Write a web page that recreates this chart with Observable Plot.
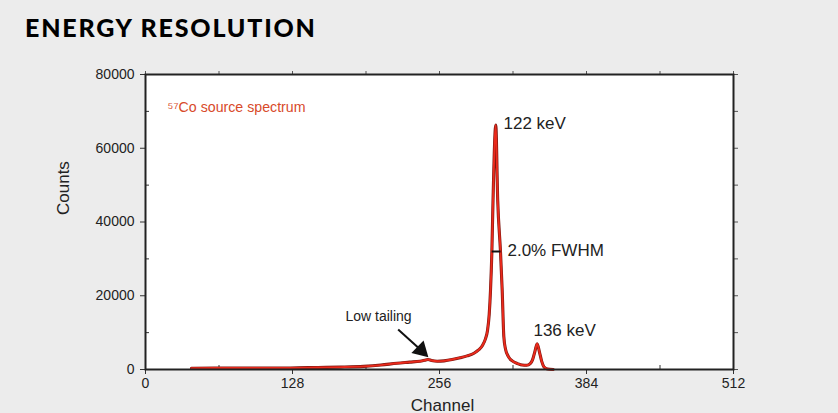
<!DOCTYPE html>
<html><head><meta charset="utf-8">
<script src="https://cdn.jsdelivr.net/npm/d3@7"></script>
<script src="https://cdn.jsdelivr.net/npm/@observablehq/plot@0.6"></script>
<style>
body{margin:0;background:#ececec;width:838px;height:413px;overflow:hidden}
#title{height:50px;box-sizing:border-box;padding:12px 0 0 25px;font:900 25px Lato, sans-serif;letter-spacing:1.8px;color:#000;line-height:30px;margin:0}
#chart svg{display:block}
</style></head><body>
<div id="title">ENERGY RESOLUTION</div>
<div id="chart"></div>
<script>
// Spectrum (channel, counts)
const channel = [40, 60, 80, 100, 126, 150, 170, 190, 205, 219, 230, 239, 243, 246, 249, 254, 260, 267, 274, 280, 286, 290, 293.4, 296, 297.8, 299.3, 300.4, 301.6, 302.6, 305, 306.7, 309.1, 310.6, 312, 313.5, 316, 320, 324, 328, 332, 335, 337, 339, 341, 343, 345, 347, 350, 355];
const counts  = [350, 400, 420, 420, 420, 550, 650, 850, 1200, 1700, 2000, 2250, 2500, 2700, 2450, 2250, 2350, 2700, 3200, 3700, 4400, 5300, 6500, 8300, 10600, 15000, 21400, 32000, 45800, 66300, 45800, 32000, 21400, 9000, 5500, 3500, 2200, 1600, 1200, 1150, 1600, 2600, 4800, 7000, 4800, 2200, 700, 150, 0];

const xMajor = [0, 128, 256, 384, 512];
const xMinor = [64, 192, 320, 448];
const xAll = [0, 64, 128, 192, 256, 320, 384, 448, 512];
const yMajor = [0, 20000, 40000, 60000, 80000];
const yMinor = [10000, 30000, 50000, 70000];
const yAll = [0, 10000, 20000, 30000, 40000, 50000, 60000, 70000, 80000];

const xLabel = "Channel";
const yLabel = "Counts";

// Annotations
const noteText = ["\u2075\u2077Co source spectrum", "122 keV", "2.0% FWHM", "136 keV"];
const noteX = [19.2, 311.7, 315.2, 337.8];
const noteY = [69800, 65100, 30650, 9220];
const tailText = ["Low tailing"];
const tailX = [174.1];
const tailY = [13020];
const arrowFrom = [220, 10850];
const arrowTo = [240, 5200];
const fwhmX = [301.4, 309.2];
const fwhmY = 32000;

const spectrum = channel.map((c, i) => ({c, n: counts[i]}));
const notes = noteText.map((t, i) => ({t, x: noteX[i], y: noteY[i], red: i === 0}));
const tail = tailText.map((t, i) => ({t, x: tailX[i], y: tailY[i]}));

const chart = Plot.plot({
  width: 838, height: 363,
  marginTop: 24, marginBottom: 44, marginLeft: 145, marginRight: 105,
  style: {background: "transparent", fontFamily: "'Liberation Sans', Arial, sans-serif", color: "#222"},
  x: {domain: [0, 512]},
  y: {domain: [0, 80000]},
  marks: [
    Plot.frame({fill: "white", stroke: null}),
    Plot.axisX({ticks: xMajor, tickSize: 5, tickPadding: 4, tickFormat: d => String(d), fontSize: 14, label: null, stroke: "#333"}),
    Plot.axisX({ticks: xMinor, tickSize: -4, text: null, label: null, stroke: "#333"}),
    Plot.axisX({anchor: "top", ticks: xAll, tickSize: 4, text: null, label: null, stroke: "#555"}),
    Plot.axisY({ticks: yMajor, tickSize: 5, tickPadding: 6, tickFormat: d => String(d), fontSize: 14, label: null, stroke: "#333"}),
    Plot.axisY({ticks: yMinor, tickSize: -4, text: null, label: null, stroke: "#333"}),
    Plot.axisY({anchor: "right", ticks: yAll, tickSize: 4, text: null, label: null, stroke: "#555"}),
    Plot.text([xLabel], {frameAnchor: "bottom", dy: 41, dx: 3, lineAnchor: "bottom", fontSize: 17, fill: "#222"}),
    Plot.text([yLabel], {frameAnchor: "left", dx: -77, dy: -7, rotate: -90, lineAnchor: "bottom", fontSize: 17, fill: "#222"}),
    Plot.line(spectrum, {x: "c", y: "n", stroke: "#7d1710", strokeWidth: 3.1, curve: "monotone-x"}),
    Plot.line(spectrum, {x: "c", y: "n", stroke: "#ea2a1c", strokeWidth: 1.9, curve: "monotone-x"}),
    Plot.link([{x1: fwhmX[0], x2: fwhmX[1], y: fwhmY}], {x1: "x1", x2: "x2", y1: "y", y2: "y", stroke: "#111", strokeWidth: 2}),
    Plot.text(notes, {x: "x", y: "y", text: "t", textAnchor: "start", lineAnchor: "bottom", fontSize: d => d.red ? 14.2 : 17, fill: d => d.red ? "#d84a2a" : "#222"}),
    Plot.text(tail, {x: "x", y: "y", text: "t", textAnchor: "start", lineAnchor: "bottom", fontSize: 14, fill: "#222"}),
    Plot.link([{x1: arrowFrom[0], y1: arrowFrom[1], x2: arrowTo[0], y2: arrowTo[1]}], {x1: "x1", y1: "y1", x2: "x2", y2: "y2", stroke: "#111", strokeWidth: 2}),
    Plot.dot([{x: arrowTo[0], y: arrowTo[1]}], {x: "x", y: "y", symbol: "triangle", r: 6.5, fill: "#111", stroke: null, rotate: 134}),
    Plot.frame({stroke: "#222", strokeWidth: 2})
  ]
});
document.getElementById("chart").append(chart);
</script>
</body></html>
